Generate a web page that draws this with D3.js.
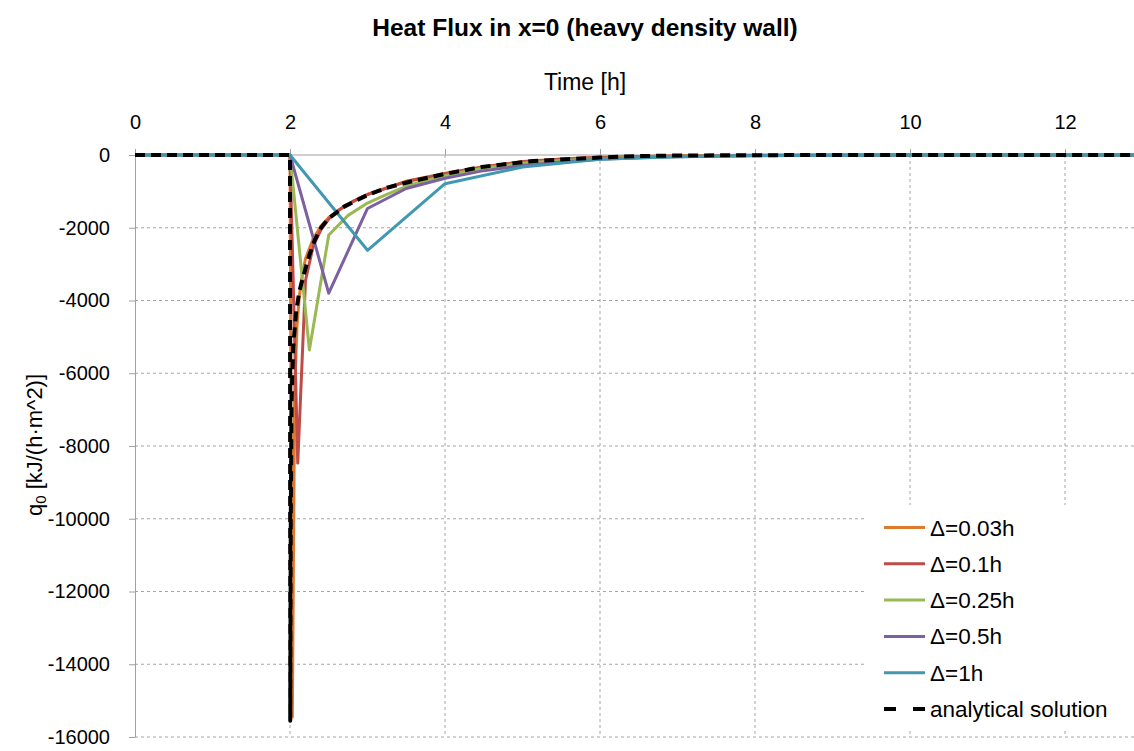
<!DOCTYPE html>
<html>
<head>
<meta charset="utf-8">
<script src="https://cdn.jsdelivr.net/npm/d3@7"></script>
<style>
  body { margin: 0; background: #fff; }
  text { font-family: "Liberation Sans", Arial, sans-serif; fill: #000; }
</style>
</head>
<body>
<div id="chart"></div>
<script>
// data: [time h, heat flux kJ/(h m^2)]
const dt003 = [[0,0],[2,0],[2.03,-15450],[2.06,-6500],[2.09,-4700],[2.12,-3900],[2.15,-3400],[2.2,-2850],[2.3,-2300],[2.4,-1950],[2.5,-1720],[2.7,-1400],[3.0,-1080],[3.5,-720],[4,-500],[4.5,-320],[5,-180],[5.5,-110],[6,-65],[7,-22],[8,-7],[10,0],[13,0]];
const dt01 = [[0,0],[2,0],[2.1,-8470],[2.2,-3450],[2.3,-2500],[2.4,-2050],[2.5,-1760],[2.6,-1560],[2.7,-1420],[2.8,-1290],[2.9,-1180],[3.0,-1090],[3.5,-730],[4,-520],[4.5,-330],[5,-185],[5.5,-115],[6,-70],[7,-25],[8,-8],[10,0],[13,0]];
const dt025 = [[0,0],[2,0],[2.25,-5360],[2.5,-2200],[2.75,-1660],[3.0,-1320],[3.25,-1080],[3.5,-860],[3.75,-700],[4,-570],[4.5,-360],[5,-230],[5.5,-150],[6,-95],[7,-35],[8,-12],[10,-2],[13,0]];
const dt05 = [[0,0],[2,0],[2.5,-3800],[3,-1470],[3.5,-920],[4,-640],[4.5,-430],[5,-290],[5.5,-190],[6,-120],[6.5,-75],[7,-45],[8,-15],[9,-5],[10,0],[13,0]];
const dt1 = [[0,0],[1,0],[2,0],[3,-2620],[4,-790],[5,-330],[6,-120],[7,-50],[8,-20],[9,-8],[10,-3],[11,-1],[12,0],[13,0]];
const analytical = [[0,0],[2,0],[2.003,-15550],[2.01,-10000],[2.02,-6800],[2.04,-5300],[2.08,-4300],[2.12,-3750],[2.17,-3350],[2.25,-2750],[2.32,-2340],[2.4,-2000],[2.5,-1740],[2.7,-1420],[3.0,-1100],[3.25,-900],[3.55,-735],[4,-520],[4.5,-320],[5.14,-165],[6,-68],[6.5,-30],[7,-15],[8,-5],[9,0],[13,0]];

const seriesNames = ["Δ=0.03h", "Δ=0.1h", "Δ=0.25h", "Δ=0.5h", "Δ=1h", "analytical solution"];
const seriesData = [dt003, dt01, dt025, dt05, dt1, analytical];
const seriesColors = ["#E0782D", "#BE4B48", "#98B954", "#7D60A0", "#4198AF", "#000000"];

const xTicks = [0, 2, 4, 6, 8, 10, 12];
const yTicks = [0, -2000, -4000, -6000, -8000, -10000, -12000, -14000, -16000];

const width = 1134, height = 751;
const svg = d3.select("#chart").append("svg")
    .attr("width", width)
    .attr("height", height);

const x = d3.scaleLinear().domain([0, 12.9]).range([135, 1134.75]);
const y = d3.scaleLinear().domain([-16000, 0]).range([737, 155]);

svg.append("defs").append("clipPath").attr("id", "plot")
  .append("rect")
    .attr("x", 135).attr("y", 140)
    .attr("width", 1000).attr("height", 600);

// gridlines
svg.append("g").selectAll("line")
  .data(yTicks.filter(d => d !== 0))
  .join("line")
    .attr("x1", 135).attr("x2", 1134)
    .attr("y1", d => y(d)).attr("y2", d => y(d))
    .attr("stroke", "#a6a6a6")
    .attr("stroke-dasharray", "3,3");

svg.append("g").selectAll("line")
  .data(xTicks.filter(d => d !== 0))
  .join("line")
    .attr("x1", d => x(d)).attr("x2", d => x(d))
    .attr("y1", 155).attr("y2", 737)
    .attr("stroke", "#a6a6a6")
    .attr("stroke-dasharray", "3,3");

// axes
const xAxis = svg.append("g")
    .attr("transform", `translate(0, ${y(0)})`)
    .call(d3.axisTop(x).tickValues(xTicks).tickSize(6).tickPadding(20).tickSizeOuter(0));
xAxis.select(".domain").attr("stroke", "#a0a0a0").attr("d", `M135,0H1134`);
xAxis.selectAll(".tick line").attr("stroke", "#a0a0a0");
xAxis.selectAll("text").attr("font-size", 20).style("font-family", "Liberation Sans, Arial, sans-serif");

const yAxis = svg.append("g")
    .attr("transform", `translate(${x(0)}, 0)`)
    .call(d3.axisLeft(y).tickValues(yTicks).tickSize(6).tickPadding(19).tickSizeOuter(0).tickFormat(d => String(d)));
yAxis.select(".domain").attr("stroke", "#a0a0a0");
yAxis.selectAll(".tick line").attr("stroke", "#a0a0a0");
yAxis.selectAll("text").attr("font-size", 20).style("font-family", "Liberation Sans, Arial, sans-serif");

// lines
const line = d3.line()
    .x(d => x(d[0]))
    .y(d => y(d[1]));

const lines = svg.append("g").attr("clip-path", "url(#plot)");
seriesData.forEach((data, i) => {
    lines.append("path")
        .datum(data)
        .attr("fill", "none")
        .attr("stroke", seriesColors[i])
        .attr("stroke-width", i === 5 ? 4 : 3)
        .attr("stroke-dasharray", i === 5 ? "10,6" : null)
        .attr("stroke-linejoin", "round")
        .attr("d", line);
});

// legend
const legend = svg.append("g");
legend.append("rect")
    .attr("x", 867).attr("y", 505)
    .attr("width", 268).attr("height", 226)
    .attr("fill", "#fff");

seriesNames.forEach((name, i) => {
    const ly = 527.5 + i * 36.3;
    legend.append("line")
        .attr("x1", 884).attr("x2", 925)
        .attr("y1", ly).attr("y2", ly)
        .attr("stroke", seriesColors[i])
        .attr("stroke-width", i === 5 ? 4 : 3)
        .attr("stroke-dasharray", i === 5 ? "12,17" : null);
    legend.append("text")
        .attr("x", 930).attr("y", ly + 8)
        .attr("font-size", 22.5)
        .text(name);
});

// titles
svg.append("text")
    .attr("x", 585).attr("y", 36)
    .attr("text-anchor", "middle")
    .attr("font-size", 24.5)
    .attr("font-weight", "bold")
    .text("Heat Flux in x=0 (heavy density wall)");

svg.append("text")
    .attr("x", 585).attr("y", 90)
    .attr("text-anchor", "middle")
    .attr("font-size", 23)
    .text("Time [h]");

const yLabel = svg.append("text")
    .attr("transform", "translate(42, 445) rotate(-90)")
    .attr("text-anchor", "middle")
    .attr("font-size", 22);
yLabel.append("tspan").text("q");
yLabel.append("tspan").attr("font-size", 15).attr("dy", 4).text("0");
yLabel.append("tspan").attr("dy", -4).text(" [kJ/(h·m^2)]");
</script>
</body>
</html>
